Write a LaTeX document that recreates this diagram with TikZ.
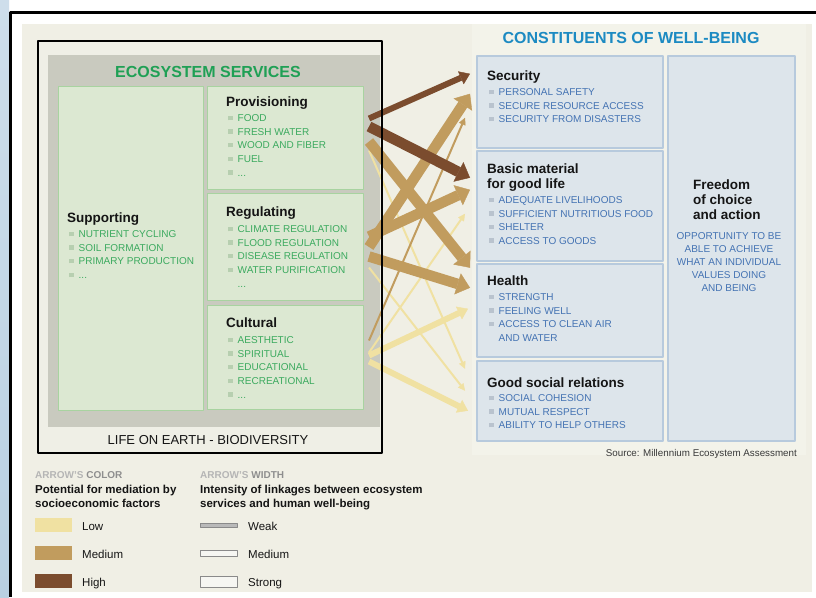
\documentclass[tikz,border=0pt]{standalone}
\usepackage{fontspec}
\setmainfont{Liberation Sans}
\usetikzlibrary{arrows.meta}

\definecolor{cream}{HTML}{F0EFE5}
\definecolor{panelhi}{HTML}{F3F3EA}
\definecolor{graybox}{HTML}{C9CABF}
\definecolor{lifeband}{HTML}{EFEFE6}
\definecolor{gfill}{HTML}{DCE8D2}
\definecolor{gedge}{HTML}{A8D3A0}
\definecolor{gtitle}{HTML}{1FA055}
\definecolor{gtext}{HTML}{3CAA5F}
\definecolor{gbullet}{HTML}{B7CFB0}
\definecolor{bfill}{HTML}{DDE5EB}
\definecolor{bedge}{HTML}{B7CADD}
\definecolor{btitle}{HTML}{1C8AC2}
\definecolor{btext}{HTML}{4473B3}
\definecolor{bbullet}{HTML}{B9C3CE}
\definecolor{lowc}{HTML}{F0E1A2}
\definecolor{midc}{HTML}{C19C5E}
\definecolor{highc}{HTML}{7B4C2E}
\definecolor{headc}{HTML}{151515}
\definecolor{legl}{HTML}{B5B5B5}
\definecolor{legd}{HTML}{8E8E8E}
\definecolor{bargray}{HTML}{8A8A8A}
\definecolor{barfill}{HTML}{F6F6F2}
\definecolor{skyblue}{HTML}{B9D0E2}

\newcommand{\gb}{\textcolor{gbullet}{\raisebox{1.4pt}{\rule{4.5pt}{4.5pt}}}\hspace{5pt}}
\newcommand{\bb}{\textcolor{bbullet}{\raisebox{1.4pt}{\rule{4.5pt}{4.5pt}}}\hspace{5pt}}
\newcommand{\nb}{\hspace{9.5pt}}

\begin{document}
\begin{tikzpicture}[x=1pt,y=-1pt,>=latex,line join=bevel,
  gbox/.style={draw=gedge,fill=gfill,line width=1pt,inner sep=0pt,anchor=north west},
  bbox/.style={draw=bedge,fill=bfill,line width=1.5pt,inner sep=0pt,anchor=north west},
  head/.style={font=\fontsize{13.5}{15}\selectfont\bfseries,text=headc,inner sep=0pt,anchor=base west},
  gitems/.style={font=\fontsize{10}{13.6}\selectfont,text=gtext,align=left,inner sep=0pt,anchor=north west},
  bitems/.style={font=\fontsize{10}{13.5}\selectfont,text=btext,align=left,inner sep=0pt,anchor=north west},
  title/.style={font=\fontsize{16}{18}\selectfont\bfseries,inner sep=0pt,anchor=base},
  linkweak/.style={line width=2pt,-{Triangle[length=7pt,width=7pt,line width=0.4pt]}},
  linkmedium/.style={line width=6pt,-{Triangle[length=10pt,width=14pt,line width=0.4pt]}},
  linkstrong/.style={line width=10.5pt,-{Triangle[length=13pt,width=22pt,line width=0.4pt]}},
  potlow/.style={draw=lowc,fill=lowc},
  potmedium/.style={draw=midc,fill=midc},
  pothigh/.style={draw=highc,fill=highc},
  swatch/.style={minimum width=37pt,minimum height=14pt,inner sep=0pt,anchor=north west},
  widthbar/.style={draw=bargray,fill=barfill,line width=0.8pt,minimum width=37pt,inner sep=0pt,anchor=west},
  leglab/.style={font=\fontsize{11.5}{13}\selectfont,text=headc,inner sep=0pt,anchor=base west},
  legtitle/.style={font=\fontsize{10}{12}\selectfont\bfseries,inner sep=0pt,anchor=base west},
  legtext/.style={font=\fontsize{11.5}{14}\selectfont\bfseries,text=headc,align=left,inner sep=0pt,anchor=north west},
  ]
\useasboundingbox (0,0) rectangle (816,597);
\fill[white] (0,0) rectangle (816,597);
\shade[top color=skyblue!70,bottom color=skyblue] (0,0) rectangle (9,597);
\fill[cream] (22,24) rectangle (812,592);
\fill[panelhi] (472,24) rectangle (806,455);
\draw[line width=3pt] (10,597) -- (10,12) -- (816,12);
%%
\fill[lifeband] (38,41) rectangle (382,453);
\fill[graybox] (48,55) rectangle (380,427);
\node[title,text=gtitle] (node_es) at (208,77) {ECOSYSTEM SERVICES};
\node[gbox,minimum width=145pt,minimum height=324pt] (node_supp) at (58,86) {};
\node[gbox,minimum width=156pt,minimum height=103pt] (node_prov) at (207,86) {};
\node[gbox,minimum width=156pt,minimum height=107pt] (node_reg) at (207,193) {};
\node[gbox,minimum width=156pt,minimum height=104pt] (node_cult) at (207,305) {};
\node[head] (node_supp_h) at (67,222) {Supporting};
\node[gitems] (node_supp_i) at (69,230.5) {\gb NUTRIENT CYCLING\\\gb SOIL FORMATION\\\gb PRIMARY PRODUCTION\\\gb ...};
\node[head] (node_prov_h) at (226,106) {Provisioning};
\node[gitems] (node_prov_i) at (228,114.5) {\gb FOOD\\\gb FRESH WATER\\\gb WOOD AND FIBER\\\gb FUEL\\\gb ...};
\node[head] (node_reg_h) at (226,216) {Regulating};
\node[gitems] (node_reg_i) at (228,225.5) {\gb CLIMATE REGULATION\\\gb FLOOD REGULATION\\\gb DISEASE REGULATION\\\gb WATER PURIFICATION\\\nb ...};
\node[head] (node_cult_h) at (226,327) {Cultural};
\node[gitems] (node_cult_i) at (228,336.5) {\gb AESTHETIC\\\gb SPIRITUAL\\\gb EDUCATIONAL\\\gb RECREATIONAL\\\gb ...};
\node[font=\fontsize{13}{15}\selectfont,text=headc,inner sep=0pt,anchor=base] (node_life) at (208,444) {LIFE ON EARTH - BIODIVERSITY};
%%
\node[title,text=btitle] (node_cw) at (631,43) {CONSTITUENTS OF WELL-BEING};
\node[bbox,minimum width=186pt,minimum height=92pt] (node_sec) at (476,55) {};
\node[bbox,minimum width=186pt,minimum height=110pt] (node_basic) at (476,150) {};
\node[bbox,minimum width=186pt,minimum height=93pt] (node_health) at (476,263) {};
\node[bbox,minimum width=186pt,minimum height=80pt] (node_social) at (476,360) {};
\node[bbox,minimum width=127pt,minimum height=385pt] (node_free) at (667,55) {};
\node[head] (node_sec_h) at (487,80) {Security};
\node[bitems] (node_sec_i) at (489,88.5) {\bb PERSONAL SAFETY\\\bb SECURE RESOURCE ACCESS\\\bb SECURITY FROM DISASTERS};
\node[head,align=left,anchor=north west] (node_basic_h) at (487,163.6) {Basic material\\for good life};
\node[bitems] (node_basic_i) at (489,196.5) {\bb ADEQUATE LIVELIHOODS\\\bb SUFFICIENT NUTRITIOUS FOOD\\\bb SHELTER\\\bb ACCESS TO GOODS};
\node[head] (node_health_h) at (487,285) {Health};
\node[bitems] (node_health_i) at (489,293.5) {\bb STRENGTH\\\bb FEELING WELL\\\bb ACCESS TO CLEAN AIR\\\nb AND WATER};
\node[head] (node_social_h) at (487,387) {Good social relations};
\node[bitems] (node_social_i) at (489,394.5) {\bb SOCIAL COHESION\\\bb MUTUAL RESPECT\\\bb ABILITY TO HELP OTHERS};
\node[head,align=left,anchor=north west] (node_free_h) at (693,179.6) {Freedom\\of choice\\and action};
\node[bitems,align=center,anchor=north,font=\fontsize{10}{13.1}\selectfont] (node_free_i) at (729,232) {OPPORTUNITY TO BE\\ABLE TO ACHIEVE\\WHAT AN INDIVIDUAL\\VALUES DOING\\AND BEING};
\node[font=\fontsize{9.8}{12}\selectfont,text=headc!85,inner sep=0pt,anchor=base east] (node_src) at (797,456) {Source: Millennium Ecosystem Assessment};
%%
% links: low potential
\draw[potlow,linkweak] ([xshift=5pt,yshift=-12.5pt]node_prov.east) -- ([xshift=-11pt,yshift=32pt]node_social.west);
\draw[potlow,linkweak] ([xshift=5pt,yshift=-20.5pt]node_reg.east) -- ([xshift=-11pt,yshift=10pt]node_social.west);
\draw[potlow,linkweak] ([xshift=5pt,yshift=5pt]node_cult.east) -- ([xshift=-11pt,yshift=-8pt]node_basic.west);
\draw[potlow,linkmedium] ([xshift=5pt,yshift=2pt]node_cult.east) -- ([xshift=-8pt,yshift=1.5pt]node_health.west);
\draw[potlow,linkmedium] ([xshift=5pt,yshift=-4pt]node_cult.east) -- ([xshift=-8pt,yshift=-10pt]node_social.west);
% links: medium potential
\draw[potmedium,linkweak] ([xshift=5pt,yshift=17pt]node_cult.east) -- ([xshift=-11pt,yshift=-16pt]node_sec.west);
\draw[potmedium,linkstrong] ([xshift=5pt,yshift=-3.5pt]node_prov.east) -- ([xshift=-6pt,yshift=42.5pt]node_health.west);
\draw[potmedium,linkstrong] ([xshift=5pt,yshift=0pt]node_reg.east) -- ([xshift=-6pt,yshift=8pt]node_sec.west);
\draw[potmedium,linkstrong] ([xshift=5pt,yshift=10.5pt]node_reg.east) -- ([xshift=-6pt,yshift=16pt]node_basic.west);
\draw[potmedium,linkstrong] ([xshift=5pt,yshift=-9.5pt]node_reg.east) -- ([xshift=-6pt,yshift=22.5pt]node_health.west);
% links: high potential
\draw[pothigh,linkmedium] ([xshift=5pt,yshift=19.5pt]node_prov.east) -- ([xshift=-6pt,yshift=28pt]node_sec.west);
\draw[pothigh,linkstrong] ([xshift=5pt,yshift=11.5pt]node_prov.east) -- ([xshift=-6pt,yshift=28pt]node_basic.west);
%%
\draw[line width=1.5pt] (38,41) rectangle (382,453);
%%
% legend
\node[legtitle] (node_col_t) at (35,478) {\textcolor{legl}{ARROW'S} \textcolor{legd}{COLOR}};
\node[legtext] (node_col_d) at (35,485) {Potential for mediation by\\socioeconomic factors};
\node[swatch,fill=lowc] (node_sw_low) at (35,518) {};
\node[leglab] (node_sw_low_l) at (82,530) {Low};
\node[swatch,fill=midc] (node_sw_med) at (35,546) {};
\node[leglab] (node_sw_med_l) at (82,558) {Medium};
\node[swatch,fill=highc] (node_sw_high) at (35,574) {};
\node[leglab] (node_sw_high_l) at (82,586) {High};
\node[legtitle] (node_wd_t) at (200,478) {\textcolor{legl}{ARROW'S} \textcolor{legd}{WIDTH}};
\node[legtext] (node_wd_d) at (200,485) {Intensity of linkages between ecosystem\\services and human well-being};
\node[widthbar,minimum height=3.5pt,fill=bargray!60] (node_wd_weak) at (200,525.5) {};
\node[leglab] (node_wd_weak_l) at (248,530) {Weak};
\node[widthbar,minimum height=6pt] (node_wd_med) at (200,553) {};
\node[leglab] (node_wd_med_l) at (248,558) {Medium};
\node[widthbar,minimum height=11pt] (node_wd_strong) at (200,582) {};
\node[leglab] (node_wd_strong_l) at (248,586) {Strong};
%
\end{tikzpicture}
\end{document}
